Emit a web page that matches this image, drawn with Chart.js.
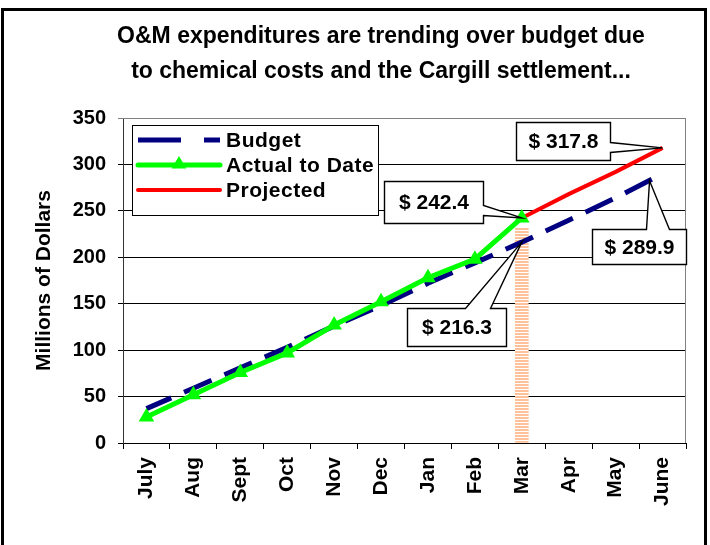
<!DOCTYPE html>
<html>
<head>
<meta charset="utf-8">
<script src="https://cdn.jsdelivr.net/npm/chart.js@4.4.1/dist/chart.umd.min.js"></script>
<style>
  html, body { margin: 0; padding: 0; background: #fff; overflow: hidden; }
  #wrap { position: relative; width: 710px; height: 545px; }
  #frame { position: absolute; left: 1px; top: 8px; width: 706px; height: 600px; border: 3px solid #000; box-sizing: border-box; pointer-events: none; }
  canvas { position: absolute; left: 0; top: 0; }
</style>
</head>
<body>
<div id="wrap">
  <canvas id="chart" width="710" height="545"></canvas>
  <div id="frame"></div>
</div>
<script>
// chart data
const months = ['July', 'Aug', 'Sept', 'Oct', 'Nov', 'Dec', 'Jan', 'Feb', 'Mar', 'Apr', 'May', 'June']
const budget = [37, 59, 81, 103, 126, 148, 172, 194, 216.3, 240, 264, 289.9]
const actual = [28, 52, 76, 97, 127, 152, 178, 198, 242.4, null, null, null]
const projected = [null, null, null, null, null, null, null, null, 242.4, 268, 292, 317.8]
const marchMarker = [null, null, null, null, null, null, null, null, 232, null, null, null]
const titleLines = ['O&M expenditures are trending over budget due', 'to chemical costs and the Cargill settlement...']
const yMin = 0
const yMax = 350
const yStep = 50

const FONT = "'Liberation Sans', Arial, sans-serif"

// value callouts: which point they point at, box offset from the tip, wedge on which side
const callouts = [
  { dataset: 2, index: 11, box: [-147, -26, 94, 38], side: 'right', wedge: [20, 30] },
  { dataset: 1, index: 8, box: [-138, -37, 99, 42], side: 'right', wedge: [24, 34] },
  { dataset: 0, index: 11, tipShift: [-13, 7], box: [-71, 55, 94, 35], side: 'top', wedge: [54, 77] },
  { dataset: 0, index: 8, box: [-115, 66, 99, 38], side: 'top', wedge: [58, 83] },
]

// orange striped fill for the March marker
const patCanvas = document.createElement('canvas')
patCanvas.width = 4
patCanvas.height = 3
const pctx = patCanvas.getContext('2d')
pctx.fillStyle = '#fff'
pctx.fillRect(0, 0, 4, 3)
pctx.fillStyle = '#FFC09A'
pctx.fillRect(0, 0, 4, 2)
const stripes = pctx.createPattern(patCanvas, 'repeat')

function triangle(ctx, x, y, r, color) {
  ctx.beginPath()
  ctx.moveTo(x, y - r)
  ctx.lineTo(x + r * 0.92, y + r * 0.55)
  ctx.lineTo(x - r * 0.92, y + r * 0.55)
  ctx.closePath()
  ctx.fillStyle = color
  ctx.fill()
}

const decor = {
  id: 'decor',
  beforeDraw(chart) {
    const { ctx, width, height } = chart
    ctx.save()
    ctx.fillStyle = '#fff'
    ctx.fillRect(0, 0, width, height)
    ctx.restore()
  },
  beforeDatasetsDraw(chart) {
    const { ctx, chartArea: a } = chart
    ctx.save()
    ctx.strokeStyle = '#808080'
    ctx.lineWidth = 1
    ctx.beginPath()
    ctx.moveTo(a.left, a.top + 0.5)
    ctx.lineTo(a.right - 0.5, a.top + 0.5)
    ctx.lineTo(a.right - 0.5, a.bottom)
    ctx.stroke()
    ctx.restore()
  },
  afterDraw(chart) {
    const { ctx, chartArea: a } = chart
    ctx.save()

    // title
    ctx.fillStyle = '#000'
    ctx.font = 'bold 23px ' + FONT
    ctx.textAlign = 'center'
    ctx.textBaseline = 'middle'
    titleLines.forEach((t, i) => ctx.fillText(t, 381, 37 + i * 35))

    // legend
    const lg = { x: a.left + 9, y: a.top + 7, w: 246, h: 90 }
    ctx.fillStyle = '#fff'
    ctx.fillRect(lg.x, lg.y, lg.w, lg.h)
    ctx.strokeStyle = '#000'
    ctx.lineWidth = 1
    ctx.strokeRect(lg.x + 0.5, lg.y + 0.5, lg.w, lg.h)
    chart.data.datasets.filter(ds => ds.type !== 'bar').forEach((ds, i) => {
      const cy = lg.y + 15 + i * 25
      ctx.save()
      ctx.strokeStyle = ds.borderColor
      ctx.lineWidth = ds.borderWidth
      ctx.setLineDash(ds.borderDash ? [43, 23] : [])
      ctx.lineCap = ds.borderDash ? 'butt' : 'round'
      ctx.beginPath()
      ctx.moveTo(lg.x + 6, cy)
      ctx.lineTo(lg.x + 88, cy)
      ctx.stroke()
      ctx.restore()
      if (ds.pointRadius) triangle(ctx, lg.x + 47, cy - 1, 8, ds.pointBackgroundColor)
      ctx.save()
      ctx.fillStyle = '#000'
      ctx.font = 'bold 21px ' + FONT
      ctx.letterSpacing = '0.5px'
      ctx.textAlign = 'left'
      ctx.textBaseline = 'middle'
      ctx.fillText(ds.label, lg.x + 94, cy + 1)
      ctx.restore()
    })

    // callouts
    callouts.forEach(c => {
      const el = chart.getDatasetMeta(c.dataset).data[c.index]
      const value = chart.data.datasets[c.dataset].data[c.index]
      const shift = c.tipShift || [0, 0]
      const tx = el.x + shift[0]
      const ty = el.y + shift[1]
      const bx = Math.round(el.x + c.box[0]) + 0.5
      const by = Math.round(el.y + c.box[1]) + 0.5
      const bw = c.box[2]
      const bh = c.box[3]
      ctx.beginPath()
      ctx.moveTo(bx, by)
      if (c.side === 'top') {
        ctx.lineTo(bx + c.wedge[0], by)
        ctx.lineTo(tx, ty)
        ctx.lineTo(bx + c.wedge[1], by)
      }
      ctx.lineTo(bx + bw, by)
      if (c.side === 'right') {
        ctx.lineTo(bx + bw, by + c.wedge[0])
        ctx.lineTo(tx, ty)
        ctx.lineTo(bx + bw, by + c.wedge[1])
      }
      ctx.lineTo(bx + bw, by + bh)
      ctx.lineTo(bx, by + bh)
      ctx.closePath()
      ctx.fillStyle = '#fff'
      ctx.fill()
      ctx.strokeStyle = '#000'
      ctx.lineWidth = 1.4
      ctx.stroke()
      ctx.fillStyle = '#000'
      ctx.font = 'bold 21px ' + FONT
      ctx.textAlign = 'center'
      ctx.textBaseline = 'middle'
      ctx.fillText('$ ' + value.toFixed(1), bx + bw / 2, by + bh / 2 + 1)
    })
    ctx.restore()
  }
}

const ctx = document.getElementById('chart').getContext('2d')
new Chart(ctx, {
  type: 'line',
  data: {
    labels: months,
    datasets: [
      {
        label: 'Budget',
        data: budget,
        borderColor: '#000080',
        borderWidth: 5,
        borderDash: [30, 14],
        borderDashOffset: 3,
        pointRadius: 0,
        tension: 0,
        fill: false,
        order: 3,
      },
      {
        label: 'Actual to Date',
        data: actual,
        borderColor: '#00FF00',
        borderWidth: 5,
        pointStyle: 'triangle',
        pointRadius: 9,
        pointBorderWidth: 0,
        pointBackgroundColor: '#00FF00',
        pointBorderColor: '#00FF00',
        tension: 0,
        fill: false,
        order: 1,
      },
      {
        label: 'Projected',
        data: projected,
        borderColor: '#FF0000',
        borderWidth: 4,
        pointRadius: 0,
        tension: 0,
        fill: false,
        order: 2,
      },
      {
        type: 'bar',
        label: 'Mar',
        data: marchMarker,
        backgroundColor: stripes,
        borderWidth: 0,
        barThickness: 13,
        order: 4,
      },
    ],
  },
  options: {
    responsive: false,
    animation: false,
    events: [],
    layout: { padding: { top: 118, right: 24, left: 0, bottom: 0 } },
    plugins: {
      legend: { display: false },
      title: { display: false },
      tooltip: { enabled: false },
    },
    scales: {
      x: {
        offset: true,
        afterFit: s => { s.height = 102 },
        grid: {
          offset: true,
          drawOnChartArea: false,
          drawTicks: true,
          tickLength: 6,
          color: '#000',
        },
        border: { display: true, color: '#000', width: 1 },
        ticks: {
          color: '#000',
          font: { family: FONT, size: 21, weight: 'bold' },
          maxRotation: 90,
          minRotation: 90,
          padding: 8,
          autoSkip: false,
        },
      },
      y: {
        min: yMin,
        max: yMax,
        afterFit: s => { s.width = 123 },
        grid: {
          color: c => (c.tick && c.tick.value === yMax ? '#808080' : '#000'),
          lineWidth: 1,
          tickLength: 5,
        },
        border: { display: true, color: '#333', width: 1 },
        ticks: {
          stepSize: yStep,
          color: '#000',
          font: { family: FONT, size: 20, weight: 'bold' },
          padding: 12,
        },
        title: {
          display: true,
          text: 'Millions of Dollars',
          color: '#000',
          font: { family: FONT, size: 21, weight: 'bold' },
          padding: { top: 32, bottom: 0 },
        },
      },
    },
  },
  plugins: [decor],
})
</script>
</body>
</html>
